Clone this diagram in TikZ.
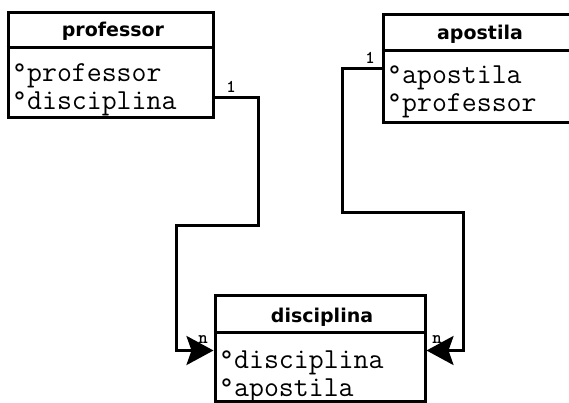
\documentclass[tikz,border=0pt]{standalone}
\usepackage{fontspec}
\usetikzlibrary{calc,arrows.meta}
\newfontfamily\hdrfont{DejaVu Sans}
\tikzset{
  table/.style={draw=black, line width=3pt, fill=white, inner sep=0pt},
  title/.style={font=\hdrfont\bfseries\fontsize{19}{19}\selectfont, anchor=base},
  attr/.style={font=\ttfamily\fontsize{29}{29}\selectfont, anchor=base west, inner sep=0pt},
  mult/.style={font=\ttfamily\bfseries\fontsize{18}{18}\selectfont, inner sep=0pt},
  conn/.style={line width=3pt, line join=miter},
  many/.style={conn, -{Stealth[length=27pt, width=29pt, inset=5pt]}},
}
\begin{document}
\begin{tikzpicture}[x=1pt, y=-1pt]
  \path[use as bounding box, fill=white] (0,0) rectangle (569,403);
  \begin{scope}
    \clip (0,0) rectangle (569,403);

    % entity tables
    \node[table, minimum width=205pt, minimum height=105pt] (prof) at (110.5,65.5) {};
    \draw[line width=3pt] (prof.west |- 0,48) -- (prof.east |- 0,48);
    \node[title] (profT) at (113,37) {professor};
    \node[attr] (profA) at (12,82) {°professor};
    \node[attr] (profB) at (12,110) {°disciplina};

    \node[table, minimum width=194pt, minimum height=108pt] (apos) at (480,69) {};
    \draw[line width=3pt] (apos.west |- 0,51) -- (apos.east |- 0,51);
    \node[title] (aposT) at (480,40) {apostila};
    \node[attr] (aposA) at (387,84) {°apostila};
    \node[attr] (aposB) at (387,112) {°professor};

    \node[table, minimum width=210pt, minimum height=106pt] (disc) at (320,348) {};
    \draw[line width=3pt] (disc.west |- 0,332) -- (disc.east |- 0,332);
    \node[title] (discT) at (322,322) {disciplina};
    \node[attr] (discA) at (219,368) {°disciplina};
    \node[attr] (discB) at (219,396) {°apostila};

    % relationships
    \draw[many] ($(prof.north east)+(0,86)$) -- ++(44,0) |- (176,225) |- ($(disc.north west)+(0,57)$);
    \draw[many] ($(apos.north west)+(0,55)$) -- ++(-39,0) |- (463,212) |- ($(disc.north east)+(0,57)$);

    \node[mult] (m1) at (231,87) {1};
    \node[mult] (m2) at (370,58) {1};
    \node[mult] (n1) at (203,340) {n};
    \node[mult] (n2) at (437,340) {n};
  \end{scope}
\end{tikzpicture}
\end{document}
